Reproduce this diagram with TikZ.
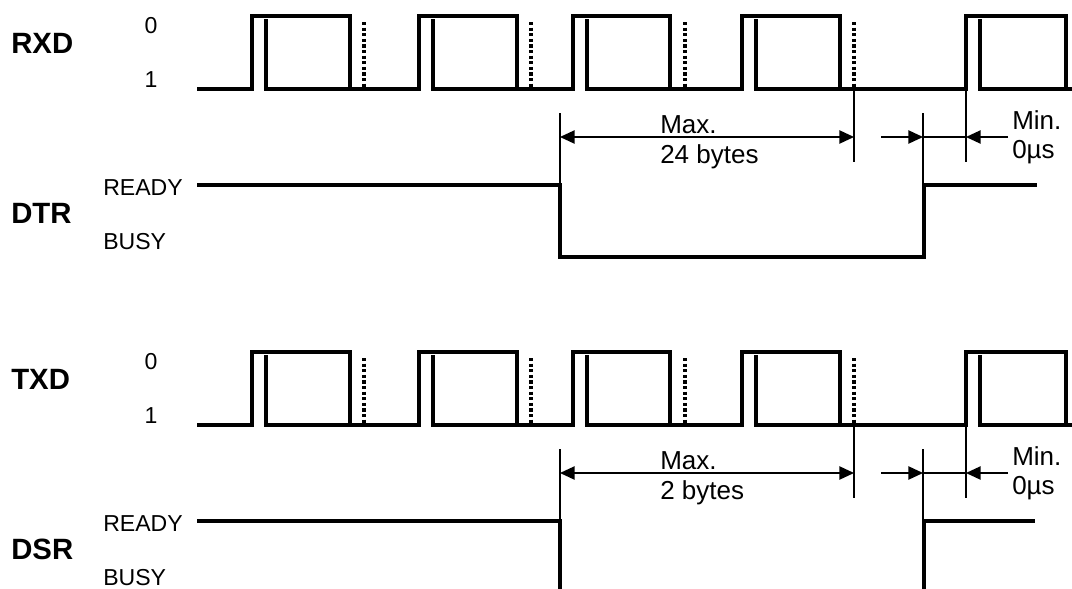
\documentclass[tikz,border=0pt]{standalone}
\usepackage{fontspec}
\setmainfont{Liberation Sans}
\usetikzlibrary{arrows.meta}
\tikzset{
  wave/.style={line width=2.6pt, line join=miter},
  dotl/.style={line width=2.6pt, dash pattern=on 2.4pt off 1.8pt},
  dim/.style={line width=1.05pt},
  arr/.style={dim, -{Triangle[length=11pt,width=10pt]}},
  darr/.style={dim, {Triangle[length=11pt,width=10pt]}-{Triangle[length=11pt,width=10pt]}},
  sig/.style={font=\fontsize{22}{25}\selectfont\bfseries, inner sep=0pt, anchor=base west},
  lvl/.style={font=\fontsize{17.3}{20}\selectfont, inner sep=0pt},
  dimtxt/.style={font=\fontsize{19.5}{22}\selectfont, inner sep=0pt, anchor=base west},
}
% #1 prefix, #2 y offset, #3 data signal, #4 control signal, #5 byte count text
\newcommand\timingblock[5]{%
\begin{scope}[shift={(0,#2)}]
  % labels
  \node[sig] (#1data) at (11,53) {#3};
  \node[lvl, anchor=base] (#1zero) at (151,33) {0};
  \node[lvl, anchor=base] (#1one) at (151,87) {1};
  \node[sig] (#1ctrl) at (11,223) {#4};
  \node[lvl, anchor=base west] (#1ready) at (103,195) {READY};
  \node[lvl, anchor=base west] (#1busy) at (103,249) {BUSY};
  % data waveform
  \draw[wave] (197,89) -- (252,89) -- (252,16) -- (350,16) -- (350,89);
  \draw[wave] (266,19) -- (266,89) -- (419,89) -- (419,16) -- (517,16) -- (517,89);
  \draw[wave] (433,19) -- (433,89) -- (573,89) -- (573,16) -- (670,16) -- (670,89);
  \draw[wave] (587,19) -- (587,89) -- (742,89) -- (742,16) -- (840,16) -- (840,89);
  \draw[wave] (756,19) -- (756,89) -- (966,89) -- (966,16) -- (1066,16) -- (1066,89);
  \draw[wave] (980,19) -- (980,89) -- (1072,89);
  % stop-bit markers
  \draw[dotl] (364,22) -- (364,89);
  \draw[dotl] (531,22) -- (531,89);
  \draw[dotl] (685,22) -- (685,89);
  \draw[dotl] (854,22) -- (854,89);
  % dimension coordinates
  \coordinate (#1a1) at (560,113);
  \coordinate (#1a2) at (560,185);
  \coordinate (#1b1) at (854,89);
  \coordinate (#1b2) at (854,162);
  \coordinate (#1c1) at (923,113);
  \coordinate (#1c2) at (923,185);
  \coordinate (#1d1) at (966,89);
  \coordinate (#1d2) at (966,162);
  \coordinate (#1am) at (560,137);
  \coordinate (#1bm) at (854,137);
  \coordinate (#1cs) at (881,137);
  \coordinate (#1cm) at (923,137);
  \coordinate (#1dm) at (966,137);
  \coordinate (#1ds) at (1008,137);
  \draw[dim] (#1a1) -- (#1a2);
  \draw[dim] (#1b1) -- (#1b2);
  \draw[dim] (#1c1) -- (#1c2);
  \draw[dim] (#1d1) -- (#1d2);
  \draw[darr] (#1am) -- (#1bm);
  \draw[arr] (#1cs) -- (#1cm);
  \draw[dim] (#1cm) -- (#1dm);
  \draw[arr] (#1ds) -- (#1dm);
  \node[dimtxt] (#1max) at (660,133) {Max.};
  \node[dimtxt] (#1bytes) at (660,163) {#5};
  \node[dimtxt] (#1min) at (1012,129) {Min.};
  \node[dimtxt] (#1us) at (1012,158) {0µs};
\end{scope}}

\begin{document}
\begin{tikzpicture}[x=0.75pt, y=-0.75pt]
  \useasboundingbox (0,0) rectangle (1072,589);
  \timingblock{r}{0}{RXD}{DTR}{24 bytes}
  \timingblock{t}{336}{TXD}{DSR}{2 bytes}
  % DTR
  \draw[wave] (197,185) -- (560,185) -- (560,257) -- (924,257) -- (924,185) -- (1037,185);
  % DSR
  \draw[wave] (197,521) -- (560,521) -- (560,589);
  \draw[wave] (924,589) -- (924,521) -- (1035,521);
\end{tikzpicture}
\end{document}
